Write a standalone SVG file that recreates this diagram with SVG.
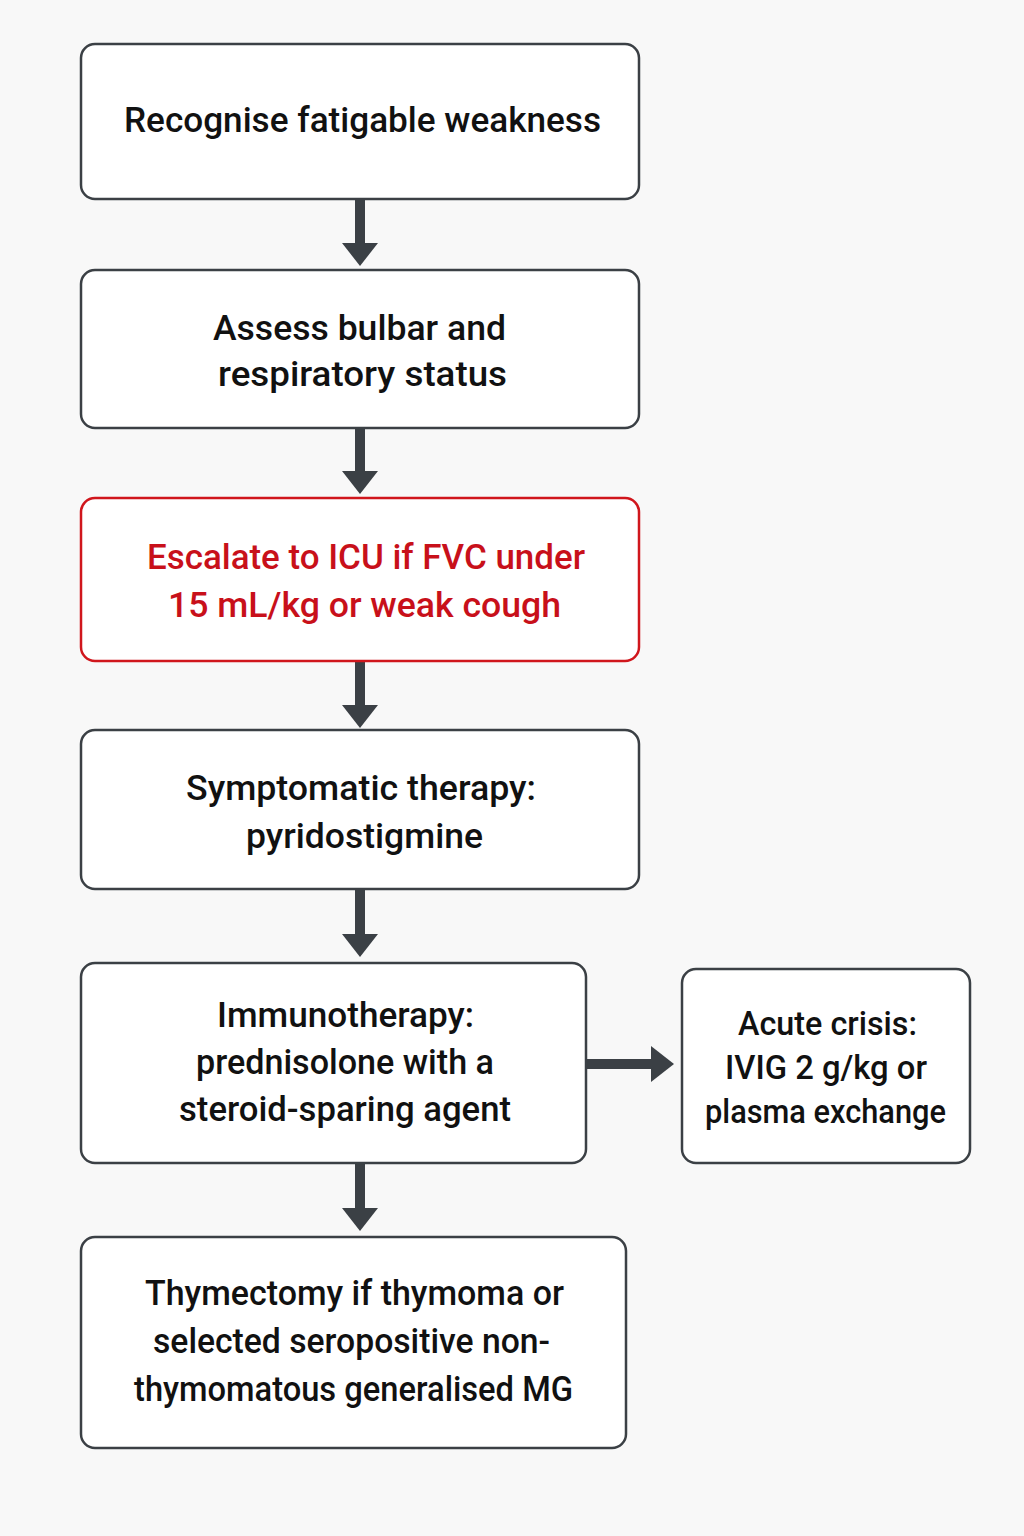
<svg xmlns="http://www.w3.org/2000/svg" width="1024" height="1536" viewBox="0 0 1024 1536">
<style>
.box{fill:#ffffff;stroke:#3b4045;stroke-width:2.5}
.red{fill:#ffffff;stroke:#d0161c;stroke-width:2.5}
.t{font-family:Roboto,"Liberation Sans",sans-serif;font-weight:500;font-size:35px;fill:#111111;text-anchor:middle}
.tr{fill:#c8101a}
.sm{font-size:33px}
.sh{fill:#3b4045}
</style>
<rect width="1024" height="1536" fill="#f8f8f8"/>
<g id="connectors">
<g class="sh">
<rect x="355" y="199" width="10" height="46"/><polygon points="342,243 378,243 360,266"/>
<rect x="355" y="428" width="10" height="45"/><polygon points="342,471 378,471 360,494"/>
<rect x="355" y="661" width="10" height="46"/><polygon points="342,705 378,705 360,728"/>
<rect x="355" y="889" width="10" height="50"/><polygon points="342,934 378,934 360,957"/>
<rect x="355" y="1163" width="10" height="48"/><polygon points="342,1208 378,1208 360,1231"/>
<rect x="586" y="1059" width="67" height="10"/><polygon points="651,1046 651,1082 674,1064"/>
</g>
</g>
<g id="n1"><rect class="box" x="81" y="44" width="558" height="155" rx="14"/>
<text class="t" x="362.5" y="132" textLength="477" lengthAdjust="spacingAndGlyphs">Recognise fatigable weakness</text></g>
<g id="n2"><rect class="box" x="81" y="270" width="558" height="158" rx="14"/>
<text class="t" x="359.5" y="340" textLength="293" lengthAdjust="spacingAndGlyphs">Assess bulbar and</text>
<text class="t" x="362.5" y="386" textLength="289" lengthAdjust="spacingAndGlyphs">respiratory status</text></g>
<g id="n3"><rect class="red" x="81" y="498" width="558" height="163" rx="14"/>
<text class="t tr" x="366" y="569" textLength="438" lengthAdjust="spacingAndGlyphs">Escalate to ICU if FVC under</text>
<text class="t tr" x="364.5" y="617" textLength="393" lengthAdjust="spacingAndGlyphs">15 mL/kg or weak cough</text></g>
<g id="n4"><rect class="box" x="81" y="730" width="558" height="159" rx="14"/>
<text class="t" x="361" y="800" textLength="350" lengthAdjust="spacingAndGlyphs">Symptomatic therapy:</text>
<text class="t" x="364.5" y="848" textLength="237" lengthAdjust="spacingAndGlyphs">pyridostigmine</text></g>
<g id="n5"><rect class="box" x="81" y="963" width="505" height="200" rx="14"/>
<text class="t" x="345.5" y="1027" textLength="257" lengthAdjust="spacingAndGlyphs">Immunotherapy:</text>
<text class="t" x="345" y="1074" textLength="298" lengthAdjust="spacingAndGlyphs">prednisolone with a</text>
<text class="t" x="345" y="1121" textLength="332" lengthAdjust="spacingAndGlyphs">steroid-sparing agent</text></g>
<g id="n6"><rect class="box" x="682" y="969" width="288" height="194" rx="14"/>
<text class="t sm" x="827.5" y="1035" textLength="179" lengthAdjust="spacingAndGlyphs">Acute crisis:</text>
<text class="t sm" x="826" y="1079" textLength="202" lengthAdjust="spacingAndGlyphs">IVIG 2 g/kg or</text>
<text class="t sm" x="825.5" y="1123" textLength="241" lengthAdjust="spacingAndGlyphs">plasma exchange</text></g>
<g id="n7"><rect class="box" x="81" y="1237" width="545" height="211" rx="14"/>
<text class="t" x="354.5" y="1305" textLength="419" lengthAdjust="spacingAndGlyphs">Thymectomy if thymoma or</text>
<text class="t" x="351.5" y="1353" textLength="397" lengthAdjust="spacingAndGlyphs">selected seropositive non-</text>
<text class="t" x="353.5" y="1401" textLength="439" lengthAdjust="spacingAndGlyphs">thymomatous generalised MG</text></g>
</svg>
